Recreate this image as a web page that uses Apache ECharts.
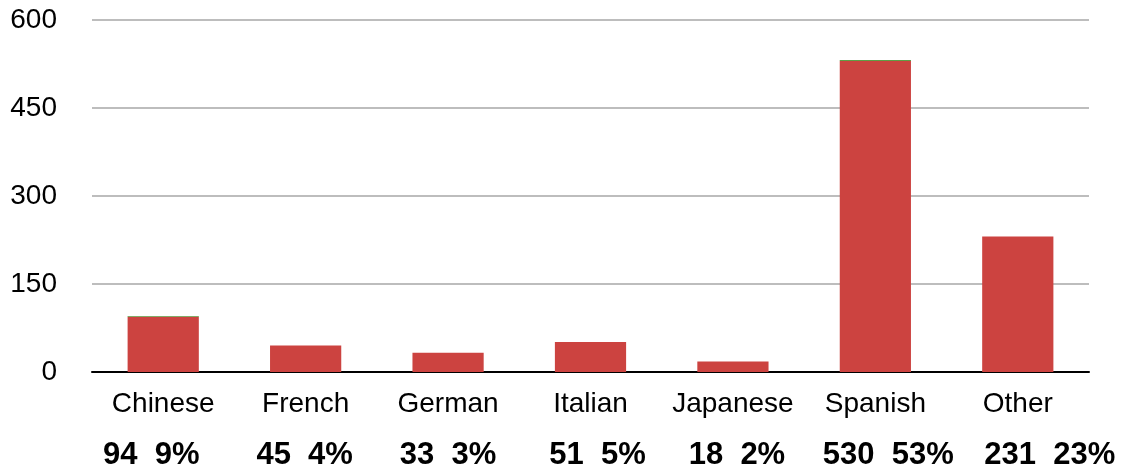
<!DOCTYPE html>
<html>
<head>
<meta charset="utf-8">
<script src="https://cdn.jsdelivr.net/npm/echarts@6/dist/echarts.min.js"></script>
<style>
  html, body { margin: 0; padding: 0; background: #fff; }
  #main { width: 1123px; height: 470px; }
</style>
</head>
<body>
<div id="main"></div>
<script>
  var categories = ['Chinese', 'French', 'German', 'Italian', 'Japanese', 'Spanish', 'Other'];
  var counts = [94, 45, 33, 51, 18, 530, 231];
  var shares = ['9%', '4%', '3%', '5%', '2%', '53%', '23%'];
  var extra = [1.5, 0, 0, 0, 0, 2, 0];
  var yTicks = [0, 150, 300, 450, 600];

  // horizontal nudge (px) of the bold count line under each category
  var numShift = [-12, -1, 0, 7, 4, 13, 32];

  var myChart = echarts.init(document.getElementById('main'));

  var rich = {
    name: {
      fontFamily: 'Liberation Sans',
      fontSize: 28,
      color: '#000',
      lineHeight: 50
    }
  };
  numShift.forEach(function (d, i) {
    rich['num' + i] = {
      fontFamily: 'Liberation Sans',
      fontSize: 31,
      fontWeight: 'bold',
      color: '#000',
      lineHeight: 52,
      padding: d < 0 ? [0, -2 * d, 0, 0] : [0, 0, 0, 2 * d]
    };
  });

  myChart.setOption({
    animation: false,
    grid: {
      left: 92,
      right: 34,
      top: 20,
      bottom: 98,
      outerBoundsMode: 'none'
    },
    xAxis: {
      type: 'category',
      data: categories,
      axisTick: { show: false },
      axisLine: {
        show: true,
        lineStyle: { color: '#000', width: 2 }
      },
      axisLabel: {
        margin: 7,
        interval: 0,
        formatter: function (value, idx) {
          return '{name|' + value + '}\n{num' + idx + '|' + counts[idx] + '  ' + shares[idx] + '}';
        },
        rich: rich
      }
    },
    yAxis: {
      type: 'value',
      min: yTicks[0],
      max: yTicks[yTicks.length - 1],
      interval: 150,
      axisLine: { show: false },
      axisTick: { show: false },
      axisLabel: {
        margin: 35,
        fontFamily: 'Liberation Sans',
        fontSize: 28,
        color: '#000'
      },
      splitLine: {
        show: true,
        lineStyle: { color: '#bdbdbd', width: 2 }
      }
    },
    series: [{
        name: 'count',
        type: 'bar',
        stack: 'total',
        barWidth: '50%',
        itemStyle: { color: '#cc4340' },
        data: counts
      },
      {
        name: 'extra',
        type: 'bar',
        stack: 'total',
        barWidth: '50%',
        itemStyle: { color: '#5f9e45' },
        data: extra
      }
    ]
  });
  window.onresize = myChart.resize;
</script>
</body>
</html>
